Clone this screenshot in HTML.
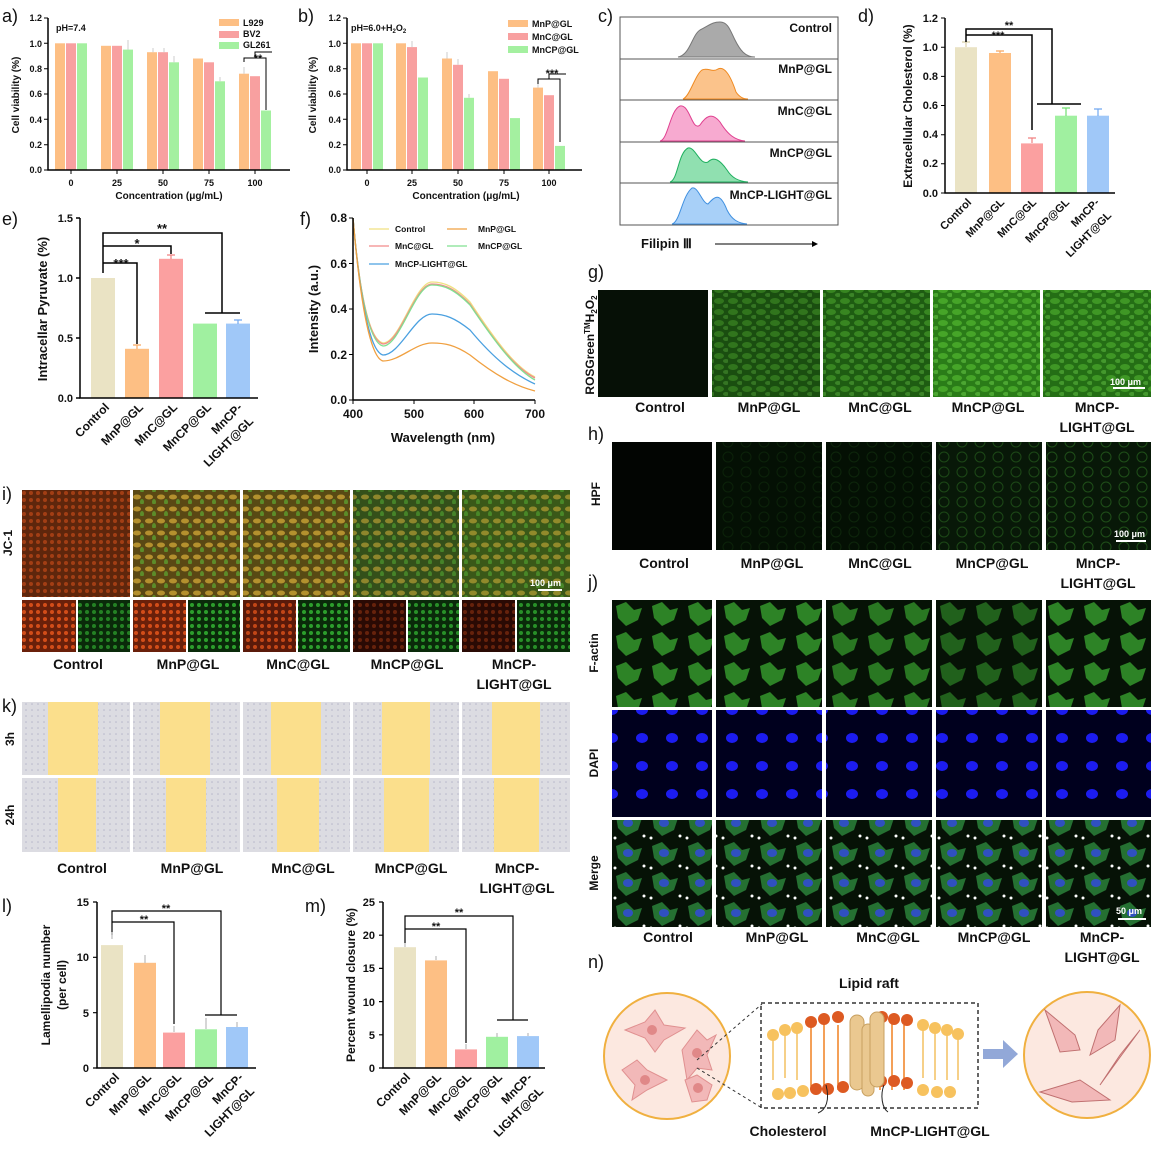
<!DOCTYPE html>
<html><head><meta charset="utf-8"><style>
html,body{margin:0;padding:0;background:#fff}
svg{display:block}
text{font-family:"Liberation Sans",sans-serif;font-weight:bold;fill:#111}
</style></head><body>
<svg width="1156" height="1152" viewBox="0 0 1156 1152" xmlns="http://www.w3.org/2000/svg">
<defs>
<pattern id="pg" width="14" height="11" patternUnits="userSpaceOnUse"><ellipse cx="5" cy="4" rx="5" ry="3" fill="#6fe040" opacity=".45"/><ellipse cx="12" cy="9" rx="3" ry="2" fill="#8af060" opacity=".4"/></pattern>
<pattern id="ph" width="18" height="15" patternUnits="userSpaceOnUse"><circle cx="8" cy="7" r="5" fill="none" stroke="#3fa030" stroke-width="1" opacity=".5"/></pattern>
<pattern id="pi" width="12" height="12" patternUnits="userSpaceOnUse"><ellipse cx="5" cy="5" rx="4" ry="2.5" fill="#f0c040" opacity=".6"/><ellipse cx="10" cy="10" rx="2" ry="3" fill="#60d040" opacity=".5"/></pattern>
<pattern id="pr" width="7" height="7" patternUnits="userSpaceOnUse"><circle cx="3" cy="3" r="2" fill="#ff6020" opacity=".7"/></pattern>
<pattern id="pgs" width="7" height="7" patternUnits="userSpaceOnUse"><circle cx="3" cy="3" r="2" fill="#40e040" opacity=".8"/></pattern>
<pattern id="pf" width="36" height="30" patternUnits="userSpaceOnUse"><path d="M4,6 L14,2 L22,10 L30,8 L26,20 L14,26 L6,18Z" fill="#39a830" opacity=".75"/></pattern>
<pattern id="pd" width="30" height="28" patternUnits="userSpaceOnUse"><ellipse cx="12" cy="10" rx="6" ry="5" fill="#1c1cf0"/></pattern>
<pattern id="pm" width="36" height="30" patternUnits="userSpaceOnUse"><path d="M4,6 L14,2 L22,10 L30,8 L26,20 L14,26 L6,18Z" fill="#2f9040" opacity=".75"/><ellipse cx="16" cy="13" rx="5" ry="4" fill="#3050c0"/><circle cx="32" cy="26" r="1.5" fill="#fff"/><circle cx="3" cy="28" r="1.5" fill="#fff"/></pattern>
<pattern id="pk" width="6" height="6" patternUnits="userSpaceOnUse"><circle cx="2" cy="2" r=".8" fill="#9090b0"/></pattern>
</defs>

<!-- ============ a ============ -->
<text x="2" y="22" font-size="18" style="font-weight:normal">a)</text>
<g fill="#FDBF84"><rect x="55" y="43.3" width="10" height="126.7"/><rect x="101" y="45.8" width="10" height="124.2"/><rect x="147" y="52.2" width="10" height="117.8"/><rect x="193" y="58.5" width="10" height="111.5"/><rect x="239" y="73.7" width="10" height="96.3"/></g>
<g fill="#F8A0A0"><rect x="66" y="43.3" width="10" height="126.7"/><rect x="112" y="45.8" width="10" height="124.2"/><rect x="158" y="52.2" width="10" height="117.8"/><rect x="204" y="62.3" width="10" height="107.7"/><rect x="250" y="76.2" width="10" height="93.8"/></g>
<g fill="#A4F0A0"><rect x="77" y="43.3" width="10" height="126.7"/><rect x="123" y="49.6" width="10" height="120.4"/><rect x="169" y="62.3" width="10" height="107.7"/><rect x="215" y="81.3" width="10" height="88.7"/><rect x="261" y="110.5" width="10" height="59.5"/></g>
<g stroke="#ccc" stroke-width="1"><path d="M128,49.6V40M174,62.3V56M220,81.3V77M244,73.7V67M153,52.2V48M164,52.2V48"/></g>
<path d="M48,18V170H290" fill="none" stroke="#000" stroke-width="1.5"/>
<g stroke="#000" stroke-width="1"><path d="M44,18H48M44,43.3H48M44,68.7H48M44,94H48M44,119.3H48M44,144.7H48M44,170H48M71,170V174M117,170V174M163,170V174M209,170V174M255,170V174"/><path d="M244,62V58H266V110M255,58V52H272" fill="none"/></g>
<g font-size="9" text-anchor="end"><text x="42" y="21">1.2</text><text x="42" y="47">1.0</text><text x="42" y="72">0.8</text><text x="42" y="97">0.6</text><text x="42" y="123">0.4</text><text x="42" y="148">0.2</text><text x="42" y="173">0.0</text></g>
<g font-size="9" text-anchor="middle"><text x="71" y="186">0</text><text x="117" y="186">25</text><text x="163" y="186">50</text><text x="209" y="186">75</text><text x="255" y="186">100</text><text x="169" y="199" font-size="10">Concentration (μg/mL)</text><text x="258" y="62" font-size="11">**</text></g>
<text x="19" y="95" font-size="10" text-anchor="middle" transform="rotate(-90 19 95)">Cell viability (%)</text>
<text x="56" y="31" font-size="9">pH=7.4</text>
<rect x="219" y="19" width="20" height="7" fill="#FDBF84"/><rect x="219" y="31" width="20" height="7" fill="#F8A0A0"/><rect x="219" y="42" width="20" height="7" fill="#A4F0A0"/>
<g font-size="9"><text x="243" y="26">L929</text><text x="243" y="37">BV2</text><text x="243" y="48">GL261</text></g>

<!-- ============ b ============ -->
<text x="298" y="22" font-size="18" style="font-weight:normal">b)</text>
<g fill="#FDBF84"><rect x="351" y="43.3" width="10" height="126.7"/><rect x="396" y="43.3" width="10" height="126.7"/><rect x="442" y="58.5" width="10" height="111.5"/><rect x="488" y="71.2" width="10" height="98.8"/><rect x="533" y="87.6" width="10" height="82.4"/></g>
<g fill="#F8A0A0"><rect x="362" y="43.3" width="10" height="126.7"/><rect x="407" y="47.1" width="10" height="122.9"/><rect x="453" y="64.8" width="10" height="105.2"/><rect x="499" y="78.8" width="10" height="91.2"/><rect x="544" y="95.2" width="10" height="74.8"/></g>
<g fill="#A4F0A0"><rect x="373" y="43.3" width="10" height="126.7"/><rect x="418" y="77.5" width="10" height="92.5"/><rect x="464" y="97.8" width="10" height="72.2"/><rect x="510" y="118.1" width="10" height="51.9"/><rect x="555" y="145.9" width="10" height="24.1"/></g>
<g stroke="#ccc" stroke-width="1"><path d="M447,58.5V52M458,64.8V59M412,47.1V41M538,87.6V82M469,97.8V94"/></g>
<path d="M347,18V170H582" fill="none" stroke="#000" stroke-width="1.5"/>
<g stroke="#000" stroke-width="1"><path d="M343,18H347M343,43.3H347M343,68.7H347M343,94H347M343,119.3H347M343,144.7H347M343,170H347M367,170V174M412,170V174M458,170V174M504,170V174M549,170V174"/><path d="M538,84V79H560V142M549,79V74H566" fill="none"/></g>
<g font-size="9" text-anchor="end"><text x="341" y="21">1.2</text><text x="341" y="47">1.0</text><text x="341" y="72">0.8</text><text x="341" y="97">0.6</text><text x="341" y="123">0.4</text><text x="341" y="148">0.2</text><text x="341" y="173">0.0</text></g>
<g font-size="9" text-anchor="middle"><text x="367" y="186">0</text><text x="412" y="186">25</text><text x="458" y="186">50</text><text x="504" y="186">75</text><text x="549" y="186">100</text><text x="466" y="199" font-size="10">Concentration (μg/mL)</text><text x="552" y="77" font-size="11">***</text></g>
<text x="316" y="95" font-size="10" text-anchor="middle" transform="rotate(-90 316 95)">Cell viability (%)</text>
<text x="351" y="31" font-size="9">pH=6.0+H<tspan font-size="6" dy="2">2</tspan><tspan dy="-2">O</tspan><tspan font-size="6" dy="2">2</tspan></text>
<rect x="508" y="20" width="20" height="7" fill="#FDBF84"/><rect x="508" y="33" width="20" height="7" fill="#F8A0A0"/><rect x="508" y="46" width="20" height="7" fill="#A4F0A0"/>
<g font-size="9"><text x="532" y="27">MnP@GL</text><text x="532" y="40">MnC@GL</text><text x="532" y="53">MnCP@GL</text></g>

<!-- ============ c ============ -->
<text x="598" y="22" font-size="18" style="font-weight:normal">c)</text>
<rect x="620" y="17" width="218" height="208" fill="#fff" stroke="#555"/>
<g stroke="#555"><path d="M620,59H838M620,100H838M620,142H838M620,183H838"/></g>
<path d="M678,57 C690,55 692,35 700,30 C710,25 712,22 720,22 C728,22 730,30 735,40 C740,50 745,57 755,57Z" fill="#aaa" stroke="#777"/>
<path d="M683,99 C690,96 695,75 702,70 C708,67 712,73 718,69 C724,66 730,74 736,92 C740,98 745,99 748,99Z" fill="#FBC38B" stroke="#f08a20"/>
<path d="M660,141 C668,140 670,110 680,106 C690,104 692,132 700,125 C706,116 712,112 720,122 C728,135 735,140 745,141Z" fill="#F7AAD0" stroke="#e04090"/>
<path d="M670,182 C678,180 678,153 688,148 C695,146 700,166 708,162 C714,156 720,160 727,170 C732,178 738,181 748,182Z" fill="#90E0B0" stroke="#20b060"/>
<path d="M672,224 C680,222 682,196 692,188 C698,186 702,203 708,204 C715,196 720,192 727,210 C732,220 738,223 747,224Z" fill="#A8D0F8" stroke="#4090e0"/>
<g font-size="12" text-anchor="end"><text x="832" y="32">Control</text><text x="832" y="73">MnP@GL</text><text x="832" y="115">MnC@GL</text><text x="832" y="157">MnCP@GL</text><text x="832" y="199">MnCP-LIGHT@GL</text></g>
<text x="641" y="248" font-size="13">Filipin Ⅲ</text>
<path d="M715,244H812" stroke="#000"/><path d="M812,241L818,244L812,247Z" fill="#000"/>

<!-- ============ d ============ -->
<text x="858" y="22" font-size="18" style="font-weight:normal">d)</text>
<rect x="955" y="47.2" width="22" height="145.8" fill="#EAE3C4"/><rect x="989" y="53" width="22" height="140" fill="#FDBF84"/><rect x="1021" y="143.4" width="22" height="49.6" fill="#FBA0A0"/><rect x="1055" y="115.7" width="22" height="77.3" fill="#A0F0A0"/><rect x="1087" y="115.7" width="22" height="77.3" fill="#A0C8F8"/>
<g stroke-width="1.2" fill="none"><path d="M962,42H970M966,47V42" stroke="#d8cfa8"/><path d="M996,51H1004M1000,53V51" stroke="#f8a860"/><path d="M1028,138H1036M1032,143V138" stroke="#f08080"/><path d="M1062,108H1070M1066,116V108" stroke="#70e070"/><path d="M1094,109H1102M1098,116V109" stroke="#70a8f0"/></g>
<path d="M945,18V193H1115" fill="none" stroke="#000" stroke-width="1.5"/>
<g stroke="#000"><path d="M941,18H945M941,47.2H945M941,76.4H945M941,105.5H945M941,134.8H945M941,163.8H945M941,193H945"/><path d="M966,42V29H1052V104M1037,104H1081M966,35H1032V130" fill="none" stroke-width="1.5"/></g>
<g font-size="11" text-anchor="end"><text x="938" y="22">1.2</text><text x="938" y="51">1.0</text><text x="938" y="80">0.8</text><text x="938" y="109">0.6</text><text x="938" y="138">0.4</text><text x="938" y="167">0.2</text><text x="938" y="197">0.0</text></g>
<text x="1009" y="29" font-size="11" text-anchor="middle">**</text><text x="998" y="39" font-size="11" text-anchor="middle">***</text>
<text x="912" y="106" font-size="12" text-anchor="middle" transform="rotate(-90 912 106)">Extracellular Cholesterol (%)</text>
<g font-size="11" text-anchor="end"><text transform="translate(972,203) rotate(-45)">Control</text><text transform="translate(1005,203) rotate(-45)">MnP@GL</text><text transform="translate(1037,203) rotate(-45)">MnC@GL</text><text transform="translate(1070,203) rotate(-45)">MnCP@GL</text><text transform="translate(1100,203) rotate(-45)">MnCP-</text><text transform="translate(1112,216) rotate(-45)">LIGHT@GL</text></g>

<!-- ============ e ============ -->
<text x="2" y="225" font-size="18" style="font-weight:normal">e)</text>
<rect x="91" y="278" width="24" height="120" fill="#EAE3C4"/><rect x="125" y="348.8" width="24" height="49.2" fill="#FDBF84"/><rect x="159" y="258.8" width="24" height="139.2" fill="#FBA0A0"/><rect x="193" y="323.6" width="24" height="74.4" fill="#A0F0A0"/><rect x="226" y="323.6" width="24" height="74.4" fill="#A0C8F8"/>
<g stroke-width="1.2" fill="none"><path d="M133,345H141M137,349V345" stroke="#f8a860"/><path d="M167,255H175M171,259V255" stroke="#f08080"/><path d="M234,320H242M238,324V320" stroke="#70a8f0"/></g>
<path d="M80,218V398H258" fill="none" stroke="#000" stroke-width="1.5"/>
<g stroke="#000" stroke-width="1.5" fill="none"><path d="M76,218H80M76,278H80M76,338H80M76,398H80"/><path d="M103,273V233H222V313M205,313H240M103,246H171V254M103,263H137V344"/></g>
<g font-size="11" text-anchor="end"><text x="73" y="222">1.5</text><text x="73" y="282">1.0</text><text x="73" y="342">0.5</text><text x="73" y="402">0.0</text></g>
<g font-size="13" text-anchor="middle"><text x="162" y="233">**</text><text x="137" y="248">*</text><text x="121" y="268">***</text></g>
<text x="47" y="309" font-size="13" text-anchor="middle" transform="rotate(-90 47 309)">Intracellar Pyruvate (%)</text>
<g font-size="12" text-anchor="end"><text transform="translate(110,408) rotate(-45)">Control</text><text transform="translate(144,408) rotate(-45)">MnP@GL</text><text transform="translate(178,408) rotate(-45)">MnC@GL</text><text transform="translate(212,408) rotate(-45)">MnCP@GL</text><text transform="translate(243,408) rotate(-45)">MnCP-</text><text transform="translate(254,422) rotate(-45)">LIGHT@GL</text></g>

<!-- ============ f ============ -->
<text x="300" y="225" font-size="18" style="font-weight:normal">f)</text>
<g fill="none" stroke-width="1.3">
<path d="M353,218 C360,300 370,340 383,343 C400,343 415,282 432,282 C445,282 455,287 470,302 C495,340 515,367 535,377" stroke="#f0e080"/>
<path d="M353,218 C360,300 370,341 383,344 C400,344 415,284 432,284 C445,284 455,289 470,304 C495,342 515,368 535,378" stroke="#f28a8a"/>
<path d="M353,218 C360,300 370,343 383,346 C400,346 415,285 432,285 C445,285 455,290 470,305 C495,342 515,369 535,380" stroke="#80e090"/>
<path d="M353,218 C360,300 370,352 383,355 C400,355 415,314 432,314 C445,314 455,318 470,330 C495,360 515,375 535,384" stroke="#4aa0e0"/>
<path d="M353,218 C360,300 370,358 383,361 C400,361 415,343 432,343 C445,343 455,345 470,355 C495,375 515,386 535,391" stroke="#f0a040"/>
</g>
<path d="M353,218V400H535" fill="none" stroke="#000" stroke-width="1.5"/>
<g stroke="#000"><path d="M349,218H353M349,263.5H353M349,309H353M349,354.5H353M349,400H353M353,400V404M414,400V404M474,400V404M535,400V404"/></g>
<g font-size="12" text-anchor="end"><text x="347" y="222">0.8</text><text x="347" y="268">0.6</text><text x="347" y="313">0.4</text><text x="347" y="359">0.2</text><text x="347" y="404">0.0</text></g>
<g font-size="12" text-anchor="middle"><text x="353" y="418">400</text><text x="414" y="418">500</text><text x="474" y="418">600</text><text x="535" y="418">700</text><text x="443" y="442" font-size="13">Wavelength (nm)</text></g>
<text x="318" y="309" font-size="13" text-anchor="middle" transform="rotate(-90 318 309)">Intensity  (a.u.)</text>
<g stroke-width="1.2"><path d="M369,229H389" stroke="#f0e080"/><path d="M447,229H467" stroke="#f0a040"/><path d="M369,246H389" stroke="#f28a8a"/><path d="M447,246H467" stroke="#80e090"/><path d="M369,264H389" stroke="#4aa0e0"/></g>
<g font-size="8.5"><text x="395" y="232">Control</text><text x="478" y="232">MnP@GL</text><text x="395" y="249">MnC@GL</text><text x="478" y="249">MnCP@GL</text><text x="395" y="267">MnCP-LIGHT@GL</text></g>

<!-- ============ g ============ -->
<text x="588" y="278" font-size="18" style="font-weight:normal">g)</text>
<rect x="598" y="290" width="110" height="107" fill="#061006"/>
<rect x="712" y="290" width="108" height="107" fill="#1a4e10"/><rect x="712" y="290" width="108" height="107" fill="url(#pg)" opacity=".6"/>
<rect x="823" y="290" width="107" height="107" fill="#1e5c12"/><rect x="823" y="290" width="107" height="107" fill="url(#pg)" opacity=".7"/>
<rect x="933" y="290" width="107" height="107" fill="#2a7c18"/><rect x="933" y="290" width="107" height="107" fill="url(#pg)" opacity=".9"/>
<rect x="1043" y="290" width="108" height="107" fill="#246e15"/><rect x="1043" y="290" width="108" height="107" fill="url(#pg)" opacity=".8"/>
<path d="M1113,388H1145" stroke="#fff" stroke-width="2"/><text x="1110" y="385" font-size="9" style="fill:#fff">100 μm</text>
<text x="596" y="345" font-size="12" text-anchor="middle" transform="rotate(-90 596 345)" dy="-2">ROSGreen<tspan font-size="8" dy="-4">TM</tspan><tspan dy="4">H</tspan><tspan font-size="8" dy="3">2</tspan><tspan dy="-3">O</tspan><tspan font-size="8" dy="3">2</tspan></text>
<g font-size="14" text-anchor="middle"><text x="660" y="412">Control</text><text x="769" y="412">MnP@GL</text><text x="880" y="412">MnC@GL</text><text x="988" y="412">MnCP@GL</text><text x="1097" y="412">MnCP-</text><text x="1097" y="432">LIGHT@GL</text></g>

<!-- ============ h ============ -->
<text x="588" y="440" font-size="18" style="font-weight:normal">h)</text>
<rect x="612" y="442" width="100" height="108" fill="#020502"/>
<rect x="716" y="442" width="106" height="108" fill="#041004"/><rect x="716" y="442" width="106" height="108" fill="url(#ph)" opacity=".25"/>
<rect x="826" y="442" width="106" height="108" fill="#041004"/><rect x="826" y="442" width="106" height="108" fill="url(#ph)" opacity=".3"/>
<rect x="936" y="442" width="106" height="108" fill="#081808"/><rect x="936" y="442" width="106" height="108" fill="url(#ph)" opacity=".7"/>
<rect x="1046" y="442" width="105" height="108" fill="#081808"/><rect x="1046" y="442" width="105" height="108" fill="url(#ph)" opacity=".8"/>
<path d="M1116,541H1146" stroke="#fff" stroke-width="2"/><text x="1114" y="537" font-size="9" style="fill:#fff">100 μm</text>
<text x="600" y="494" font-size="12" text-anchor="middle" transform="rotate(-90 600 494)">HPF</text>
<g font-size="14" text-anchor="middle"><text x="664" y="568">Control</text><text x="772" y="568">MnP@GL</text><text x="880" y="568">MnC@GL</text><text x="992" y="568">MnCP@GL</text><text x="1098" y="568">MnCP-</text><text x="1098" y="588">LIGHT@GL</text></g>

<!-- ============ i ============ -->
<text x="2" y="500" font-size="18" style="font-weight:normal">i)</text>
<rect x="22" y="490" width="108" height="107" fill="#5e260c"/><rect x="22" y="490" width="108" height="107" fill="url(#pr)" opacity=".6"/>
<rect x="133" y="490" width="107" height="107" fill="#5a4814"/><rect x="133" y="490" width="107" height="107" fill="url(#pi)"/>
<rect x="243" y="490" width="107" height="107" fill="#584a14"/><rect x="243" y="490" width="107" height="107" fill="url(#pi)"/>
<rect x="353" y="490" width="106" height="107" fill="#34501a"/><rect x="353" y="490" width="106" height="107" fill="url(#pi)" opacity=".8"/>
<rect x="462" y="490" width="108" height="107" fill="#3a5818"/><rect x="462" y="490" width="108" height="107" fill="url(#pi)" opacity=".8"/>
<path d="M538,590H562" stroke="#fff" stroke-width="2"/><text x="530" y="586" font-size="9" style="fill:#fff">100 μm</text>
<g>
<rect x="22" y="600" width="54" height="52" fill="#6a200a"/><rect x="22" y="600" width="54" height="52" fill="url(#pr)"/>
<rect x="78" y="600" width="52" height="52" fill="#0a2a0a"/><rect x="78" y="600" width="52" height="52" fill="url(#pgs)" opacity=".6"/>
<rect x="133" y="600" width="53" height="52" fill="#6a200a"/><rect x="133" y="600" width="53" height="52" fill="url(#pr)"/>
<rect x="188" y="600" width="52" height="52" fill="#0a2a0a"/><rect x="188" y="600" width="52" height="52" fill="url(#pgs)" opacity=".8"/>
<rect x="243" y="600" width="53" height="52" fill="#5a1a0a"/><rect x="243" y="600" width="53" height="52" fill="url(#pr)" opacity=".9"/>
<rect x="298" y="600" width="52" height="52" fill="#0a2a0a"/><rect x="298" y="600" width="52" height="52" fill="url(#pgs)" opacity=".8"/>
<rect x="353" y="600" width="53" height="52" fill="#2a0a04"/><rect x="353" y="600" width="53" height="52" fill="url(#pr)" opacity=".4"/>
<rect x="408" y="600" width="51" height="52" fill="#0a2a0a"/><rect x="408" y="600" width="51" height="52" fill="url(#pgs)" opacity=".7"/>
<rect x="462" y="600" width="53" height="52" fill="#2a0a04"/><rect x="462" y="600" width="53" height="52" fill="url(#pr)" opacity=".4"/>
<rect x="517" y="600" width="53" height="52" fill="#0a2a0a"/><rect x="517" y="600" width="53" height="52" fill="url(#pgs)" opacity=".7"/>
</g>
<text x="12" y="543" font-size="12" text-anchor="middle" transform="rotate(-90 12 543)">JC-1</text>
<g font-size="14" text-anchor="middle"><text x="78" y="669">Control</text><text x="188" y="669">MnP@GL</text><text x="298" y="669">MnC@GL</text><text x="407" y="669">MnCP@GL</text><text x="514" y="669">MnCP-</text><text x="514" y="689">LIGHT@GL</text></g>

<!-- ============ j ============ -->
<text x="588" y="588" font-size="18" style="font-weight:normal">j)</text>
<g>
<rect x="612" y="600" width="100" height="107" fill="#061206"/><rect x="612" y="600" width="100" height="107" fill="url(#pf)"/>
<rect x="716" y="600" width="106" height="107" fill="#061206"/><rect x="716" y="600" width="106" height="107" fill="url(#pf)"/>
<rect x="826" y="600" width="106" height="107" fill="#061206"/><rect x="826" y="600" width="106" height="107" fill="url(#pf)" opacity=".9"/>
<rect x="936" y="600" width="106" height="107" fill="#061206"/><rect x="936" y="600" width="106" height="107" fill="url(#pf)" opacity=".7"/>
<rect x="1046" y="600" width="105" height="107" fill="#061206"/><rect x="1046" y="600" width="105" height="107" fill="url(#pf)"/>
<rect x="612" y="710" width="100" height="107" fill="#00001e"/><rect x="612" y="710" width="100" height="107" fill="url(#pd)"/>
<rect x="716" y="710" width="106" height="107" fill="#00001e"/><rect x="716" y="710" width="106" height="107" fill="url(#pd)"/>
<rect x="826" y="710" width="106" height="107" fill="#00001e"/><rect x="826" y="710" width="106" height="107" fill="url(#pd)"/>
<rect x="936" y="710" width="106" height="107" fill="#00001e"/><rect x="936" y="710" width="106" height="107" fill="url(#pd)"/>
<rect x="1046" y="710" width="105" height="107" fill="#00001e"/><rect x="1046" y="710" width="105" height="107" fill="url(#pd)"/>
<rect x="612" y="820" width="100" height="107" fill="#061206"/><rect x="612" y="820" width="100" height="107" fill="url(#pm)"/>
<rect x="716" y="820" width="106" height="107" fill="#061206"/><rect x="716" y="820" width="106" height="107" fill="url(#pm)"/>
<rect x="826" y="820" width="106" height="107" fill="#061206"/><rect x="826" y="820" width="106" height="107" fill="url(#pm)"/>
<rect x="936" y="820" width="106" height="107" fill="#061206"/><rect x="936" y="820" width="106" height="107" fill="url(#pm)"/>
<rect x="1046" y="820" width="105" height="107" fill="#061206"/><rect x="1046" y="820" width="105" height="107" fill="url(#pm)"/>
</g>
<path d="M1118,919H1146" stroke="#fff" stroke-width="2"/><text x="1116" y="914" font-size="9" style="fill:#fff">50 μm</text>
<g font-size="12" text-anchor="middle"><text x="598" y="653" transform="rotate(-90 598 653)">F-actin</text><text x="598" y="763" transform="rotate(-90 598 763)">DAPI</text><text x="598" y="873" transform="rotate(-90 598 873)">Merge</text></g>
<g font-size="14" text-anchor="middle"><text x="668" y="942">Control</text><text x="777" y="942">MnP@GL</text><text x="888" y="942">MnC@GL</text><text x="994" y="942">MnCP@GL</text><text x="1102" y="942">MnCP-</text><text x="1102" y="962">LIGHT@GL</text></g>

<!-- ============ k ============ -->
<text x="2" y="712" font-size="18" style="font-weight:normal">k)</text>
<g>
<rect x="22" y="702" width="548" height="73" fill="#dcdce2"/><rect x="22" y="702" width="548" height="73" fill="url(#pk)" opacity=".5"/>
<rect x="22" y="778" width="548" height="74" fill="#dcdce2"/><rect x="22" y="778" width="548" height="74" fill="url(#pk)" opacity=".5"/>
<g fill="#FBDF8C"><rect x="48" y="702" width="50" height="73"/><rect x="160" y="702" width="50" height="73"/><rect x="271" y="702" width="50" height="73"/><rect x="382" y="702" width="48" height="73"/><rect x="492" y="702" width="48" height="73"/>
<rect x="58" y="778" width="38" height="74"/><rect x="166" y="778" width="40" height="74"/><rect x="277" y="778" width="42" height="74"/><rect x="384" y="778" width="45" height="74"/><rect x="494" y="778" width="45" height="74"/></g>
<g stroke="#fff" stroke-width="3"><path d="M131.5,702V852M241.5,702V852M351.5,702V852M460.5,702V852M22,776.5H570"/></g>
</g>
<g font-size="12" text-anchor="middle"><text x="14" y="739" transform="rotate(-90 14 739)">3h</text><text x="14" y="815" transform="rotate(-90 14 815)">24h</text></g>
<g font-size="14" text-anchor="middle"><text x="82" y="873">Control</text><text x="192" y="873">MnP@GL</text><text x="303" y="873">MnC@GL</text><text x="411" y="873">MnCP@GL</text><text x="517" y="873">MnCP-</text><text x="517" y="893">LIGHT@GL</text></g>

<!-- ============ l ============ -->
<text x="2" y="912" font-size="18" style="font-weight:normal">l)</text>
<rect x="101" y="945.1" width="22" height="122.9" fill="#EAE3C4"/><rect x="134" y="962.8" width="22" height="105.2" fill="#FDBF84"/><rect x="163" y="1032.6" width="22" height="35.4" fill="#FBA0A0"/><rect x="195" y="1029.3" width="22" height="38.7" fill="#A0F0A0"/><rect x="226" y="1027" width="22" height="41" fill="#A0C8F8"/>
<path d="M97,902V1068H256" fill="none" stroke="#000" stroke-width="1.5"/>
<g stroke="#000" stroke-width="1.2" fill="none"><path d="M93,902H97M93,957.3H97M93,1012.7H97M93,1068H97"/><path d="M112,935V911H221V1015M205,1015H237M112,922H174V1024"/><path d="M112,932V939M145,955V963M174,1026V1032M206,1018V1029M237,1022V1027" stroke="#bbb"/></g>
<g font-size="11" text-anchor="end"><text x="89" y="906">15</text><text x="89" y="961">10</text><text x="89" y="1017">5</text><text x="89" y="1072">0</text></g>
<g font-size="11" text-anchor="middle"><text x="166" y="912">**</text><text x="144" y="923">**</text></g>
<text x="50" y="985" font-size="12" text-anchor="middle" transform="rotate(-90 50 985)">Lamellipodia number</text>
<text x="66" y="985" font-size="12" text-anchor="middle" transform="rotate(-90 66 985)">(per cell)</text>
<g font-size="12" text-anchor="end"><text transform="translate(120,1078) rotate(-45)">Control</text><text transform="translate(152,1078) rotate(-45)">MnP@GL</text><text transform="translate(182,1078) rotate(-45)">MnC@GL</text><text transform="translate(214,1078) rotate(-45)">MnCP@GL</text><text transform="translate(244,1078) rotate(-45)">MnCP-</text><text transform="translate(255,1092) rotate(-45)">LIGHT@GL</text></g>

<!-- ============ m ============ -->
<text x="305" y="912" font-size="18" style="font-weight:normal">m)</text>
<rect x="394" y="947.2" width="22" height="120.8" fill="#EAE3C4"/><rect x="425" y="960.4" width="22" height="107.6" fill="#FDBF84"/><rect x="455" y="1049.4" width="22" height="18.6" fill="#FBA0A0"/><rect x="486" y="1036.8" width="22" height="31.2" fill="#A0F0A0"/><rect x="517" y="1036.1" width="22" height="31.9" fill="#A0C8F8"/>
<g stroke="#bbb" stroke-width="1.2"><path d="M405,943V947M436,956V960M466,1044V1049M497,1033V1037M528,1033V1036"/></g>
<path d="M383,902V1068H545" fill="none" stroke="#000" stroke-width="1.5"/>
<g stroke="#000" stroke-width="1.2" fill="none"><path d="M379,902H383M379,935.2H383M379,968.4H383M379,1001.6H383M379,1034.8H383M379,1068H383"/><path d="M405,943V916H513V1020M497,1020H528M405,929H466V1043"/></g>
<g font-size="11" text-anchor="end"><text x="375" y="906">25</text><text x="375" y="939">20</text><text x="375" y="972">15</text><text x="375" y="1006">10</text><text x="375" y="1039">5</text><text x="375" y="1072">0</text></g>
<g font-size="11" text-anchor="middle"><text x="459" y="916">**</text><text x="436" y="930">**</text></g>
<text x="355" y="985" font-size="12" text-anchor="middle" transform="rotate(-90 355 985)">Percent wound closure (%)</text>
<g font-size="12" text-anchor="end"><text transform="translate(411,1078) rotate(-45)">Control</text><text transform="translate(442,1078) rotate(-45)">MnP@GL</text><text transform="translate(472,1078) rotate(-45)">MnC@GL</text><text transform="translate(503,1078) rotate(-45)">MnCP@GL</text><text transform="translate(533,1078) rotate(-45)">MnCP-</text><text transform="translate(544,1092) rotate(-45)">LIGHT@GL</text></g>

<!-- ============ n ============ -->
<text x="588" y="968" font-size="18" style="font-weight:normal">n)</text>
<circle cx="667" cy="1056" r="63" fill="#FCE8E0" stroke="#F0B040" stroke-width="2"/>
<g fill="#F2B8B8" stroke="#e09090"><path d="M625,1030 L645,1022 L655,1010 L664,1025 L685,1028 L664,1040 L655,1052 L645,1038Z"/><path d="M682,1050 L697,1030 L707,1040 L716,1035 L707,1055 L712,1070 L697,1068 L687,1080Z"/><path d="M622,1070 L637,1060 L647,1070 L667,1080 L647,1090 L632,1100 L635,1085Z"/><path d="M685,1080 L697,1075 L712,1085 L707,1100 L692,1102Z"/></g>
<g fill="#E08888"><circle cx="652" cy="1030" r="5"/><circle cx="697" cy="1053" r="5"/><circle cx="645" cy="1080" r="5"/><circle cx="698" cy="1088" r="5"/></g>
<path d="M697,1060L762,1004M697,1068L762,1108" stroke="#333" stroke-dasharray="3,3" fill="none"/>
<rect x="761" y="1003" width="217" height="105" fill="none" stroke="#333" stroke-width="1.5" stroke-dasharray="4,3"/>
<g stroke="#F4C060" stroke-width="1.5"><path d="M773,1035V1080M785,1030V1078M797,1028V1080M923,1028V1078M935,1030V1080M947,1032V1080M958,1035V1080"/></g>
<g stroke="#F08020" stroke-width="1.5"><path d="M811,1025V1090M824,1023V1090M838,1025V1090M880,1025V1090M892,1023V1090M904,1025V1090"/></g>
<g fill="#F7C25E"><circle cx="773" cy="1035" r="6"/><circle cx="785" cy="1030" r="6"/><circle cx="797" cy="1028" r="6"/><circle cx="923" cy="1025" r="6"/><circle cx="935" cy="1028" r="6"/><circle cx="947" cy="1030" r="6"/><circle cx="958" cy="1034" r="6"/><circle cx="778" cy="1094" r="6"/><circle cx="790" cy="1093" r="6"/><circle cx="803" cy="1091" r="6"/><circle cx="923" cy="1090" r="6"/><circle cx="937" cy="1092" r="6"/><circle cx="950" cy="1092" r="6"/></g>
<g fill="#DD5A22"><circle cx="811" cy="1022" r="6"/><circle cx="824" cy="1019" r="6"/><circle cx="838" cy="1017" r="6"/><circle cx="882" cy="1017" r="6"/><circle cx="894" cy="1019" r="6"/><circle cx="907" cy="1020" r="6"/><circle cx="816" cy="1089" r="6"/><circle cx="828" cy="1089" r="6"/><circle cx="843" cy="1087" r="6"/><circle cx="881" cy="1081" r="6"/><circle cx="894" cy="1081" r="6"/><circle cx="907" cy="1083" r="6"/></g>
<g fill="#EAC890" stroke="#c8a060"><rect x="850" y="1015" width="14" height="75" rx="7"/><rect x="862" y="1024" width="12" height="72" rx="6"/><rect x="870" y="1012" width="14" height="75" rx="7"/></g>
<path d="M983,1049H1003V1040L1018,1054L1003,1068V1059H983Z" fill="#92A8D8"/>
<circle cx="1087" cy="1055" r="63" fill="#FCE8E0" stroke="#F0B040" stroke-width="2"/>
<g fill="#F2B8B8" stroke="#c07070"><path d="M1045,1010 L1075,1035 L1080,1050 L1060,1052Z"/><path d="M1120,1005 L1115,1040 L1090,1055 L1098,1030Z"/><path d="M1140,1030 L1118,1060 L1100,1085 L1120,1055Z"/><path d="M1040,1092 L1080,1080 L1110,1100 L1072,1102Z"/></g>
<text x="869" y="988" font-size="14" text-anchor="middle">Lipid raft</text>
<path d="M826,1085 C830,1100 826,1110 818,1113" stroke="#222" fill="none"/>
<path d="M884,1085 C880,1095 882,1108 888,1112" stroke="#222" fill="none"/>
<text x="788" y="1136" font-size="14" text-anchor="middle">Cholesterol</text>
<text x="930" y="1136" font-size="14" text-anchor="middle">MnCP-LIGHT@GL</text>
</svg>
</body></html>
